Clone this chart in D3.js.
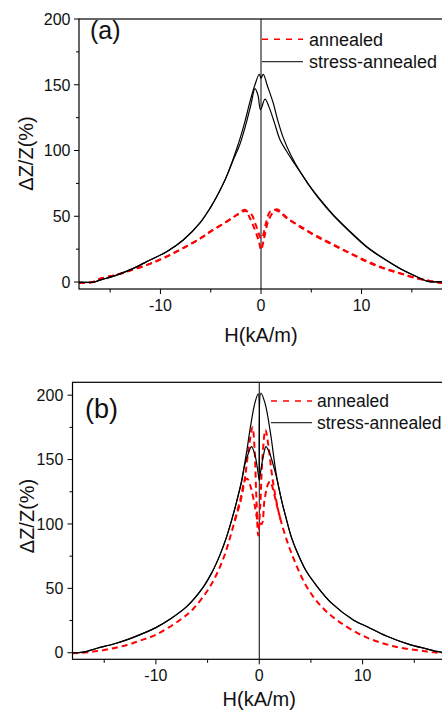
<!DOCTYPE html>
<html><head><meta charset="utf-8">
<script src="https://cdn.jsdelivr.net/npm/d3@7/dist/d3.min.js"></script>
<style>body{margin:0;background:#fff}svg{display:block;font-family:"Liberation Sans",Arial,Helvetica,sans-serif}</style>
</head><body>
<svg id="chart" width="442" height="711"></svg>
<script>
// ---------- DATA ----------
// Panel (a)
const aStress1H = [-18.1,-16.6,-16.0,-14.36,-12.7,-11.04,-9.38,-7.73,-6.07,-5.0,-4.4,-3.5,-2.75,-2.09,-1.6,-1.1,-0.6,-0.17,0,0.23,0.6,1.22,1.7,2.2,3.0,3.88,4.7,5.54,7.2,8.86,10.5,12.17,13.8,15.5,16.6,18.1];
const aStress1V = [0,0,1.5,5.3,10.4,16.7,23.1,32,45,57,65,79,94,109,122,137,150,158,155,158,150,136,122,110,96,84,74.5,66,51,38.5,27,18,10.4,4,0.5,0.3];
const aStress2H = [-18.1,-16.6,-16.0,-14.36,-12.7,-11.04,-9.38,-7.73,-6.07,-5.0,-4.4,-3.5,-2.75,-2.09,-1.5,-1.0,-0.6,-0.3,-0.05,0.4,0.8,1.3,1.9,2.5,3.2,3.88,4.7,5.54,7.2,8.86,10.5,12.17,13.8,15.5,16.6,18.1];
const aStress2V = [0,0,1.5,5.3,10.4,16.7,23.1,32,45,57,65,79,93,105,120,135,147,142,131,139,133,122,108,100,91.5,84,74.5,65.5,50.5,38,26.7,17.8,10.3,4,0.5,0.3];
const aAnneal1H = [-18.1,-16.7,-16.0,-14.4,-12.7,-11.0,-9.4,-7.7,-6.07,-5.0,-3.4,-2.4,-1.6,-1.1,-0.6,-0.2,0,0.3,0.7,1.1,1.56,2.56,3.88,5.54,7.2,8.86,10.5,12.17,13.8,15.5,17.2,18.1];
const aAnneal1V = [-0.8,0,2.5,5.5,9.5,14,19.3,26,33,38.5,46,51,55,48.5,39.6,30.7,24.4,33,46,52,55.3,49,42,34.5,28,21.8,15.5,10.4,6.6,2.8,0.3,-0.8];
const aAnneal2H = [-18.1,-16.7,-16.0,-14.4,-12.7,-11.0,-9.4,-7.7,-6.07,-5.0,-3.4,-2.4,-1.6,-1.0,-0.5,0.05,0.5,0.85,1.3,1.8,2.56,3.88,5.54,7.2,8.86,10.5,12.17,13.8,15.5,17.2,18.1];
const aAnneal2V = [-0.8,0,2.5,5.5,9.5,14,19.3,26,33,38.5,46,51,54,52,43,33,45,53,55,53.5,48.5,42.5,35,28.5,22,16,10.8,6.8,3,0.3,-0.8];
// Panel (b)
const bStress1H = [-18.1,-17,-15.7,-14,-12.5,-10,-8.65,-7,-5.42,-4.6,-3.8,-3.2,-2.67,-2.2,-1.7,-1.2,-0.9,-0.42,-0.1,0,0.16,0.55,1.04,1.68,2.2,2.65,3.1,3.62,4.5,5.55,7,9.1,10.5,12.3,14.5,16.2,17.3,18.1];
const bStress1V = [0,0.5,3.5,7,11,19.5,26,36,51,62,76,89,103,117,134,157,173,194,201,140,201.6,194,173,137,117,103,90,79,64,52,38.5,25.5,20,13,6.5,3,0.8,0];
const bStress2H = [-18.1,-17,-15.7,-14,-12.5,-10,-8.65,-7,-5.42,-4.6,-3.8,-3.2,-2.67,-2.2,-1.7,-1.4,-1.0,-0.75,-0.4,-0.12,0,0.12,0.4,0.65,0.95,1.35,1.68,2.2,2.65,3.1,3.62,4.5,5.55,7,9.1,10.5,12.3,14.5,16.2,17.3,18.1];
const bStress2V = [0,0.5,3.5,7,11,19.5,26,36,51,62,76,89,103,117,133,146,156,160,153,140,134,140,153,160,156,146,136,117,103,90,79,64,52,38.5,25.5,20,13,6.5,3,0.8,0];
const bAnneal1H = [-18.1,-16.5,-15.1,-12.8,-11.5,-10,-7.68,-6.4,-4.77,-3.48,-2.35,-1.8,-1.38,-1.0,-0.65,-0.45,-0.3,-0.1,0.1,0.3,0.6,0.9,1.2,1.6,2.07,3.13,4.59,6,7.5,10.07,13,16.2,17.2,18.1];
const bAnneal1V = [-0.5,0.5,2,6,9.5,14,25.4,34,51.3,73,103,118,136,160,175,158,125,91,115,150,173,160,140,120,103,77,51.3,36,25.4,13,5,1,0,-0.5];
// second annealed sweep differs only around the peak
const bAnneal2H = [-2.35,-1.8,-1.38,-1.15,-0.8,-0.45,-0.1,0.23,0.5,0.85,1.05,1.3,1.6,2.07];
const bAnneal2V = [103,120,134,135,128,115,102,100,118,131,133,128,118,103];

const xTicksMajor = [-10,0,10];
const xTicksMinor = [-15,-5,5,15];
const yTicksMajor = [0,50,100,150,200];
const yTicksMinor = [25,75,125,175];
const legendLabels = ["annealed","stress-annealed"];
const panelLabels = ["(a)","(b)"];
const xTitle = "H(kA/m)";
const yTitle = "\u0394Z/Z(%)";

// ---------- DRAW ----------
const svg = d3.select("#chart");
const zip = (H,V) => H.map((h,i)=>[h,V[i]]);

const panels = [
  {id:"a", left:79, right:443, top:19, bottom:289, xd:[-18.1,18.1], yd:[-5.3,200],
   stress:[zip(aStress1H,aStress1V), zip(aStress2H,aStress2V)],
   anneal:[zip(aAnneal1H,aAnneal1V), zip(aAnneal2H,aAnneal2V)],
   label:panelLabels[0], labelX:90, labelY:39, labelSize:25,
   legX1:262, legX2:303, legY:[39.3,61.7], legTextX:309, legSize:18,
   yLabelGap:8.5, xLabelBase:21.5, xTitleY:342, yTitleX:33, yTitleY:153.5},
  {id:"b", left:72.5, right:446, top:382.3, bottom:659.3, xd:[-18.07,18.07], yd:[-5.1,210],
   stress:[zip(bStress1H,bStress1V), zip(bStress2H,bStress2V)],
   anneal:[zip(bAnneal1H,bAnneal1V), zip(bAnneal2H,bAnneal2V)],
   label:panelLabels[1], labelX:85, labelY:418, labelSize:27,
   legX1:271, legX2:312, legY:[401,422.7], legTextX:317, legSize:17.5,
   yLabelGap:9.2, xLabelBase:21.5, xTitleY:706, yTitleX:34, yTitleY:516}
];

panels.forEach(p=>{
  const x = d3.scaleLinear().domain(p.xd).range([p.left,p.right]);
  const y = d3.scaleLinear().domain(p.yd).range([p.bottom,p.top]);
  const g = svg.append("g");
  g.append("clipPath").attr("id","clip"+p.id).append("rect")
    .attr("x",p.left).attr("y",p.top).attr("width",p.right-p.left).attr("height",p.bottom-p.top);

  const line = d3.line().x(d=>x(d[0])).y(d=>y(d[1])).curve(d3.curveCatmullRom.alpha(0.5));
  const plot = g.append("g").attr("clip-path",`url(#clip${p.id})`);

  plot.append("line").attr("x1",x(0)).attr("x2",x(0)).attr("y1",p.top).attr("y2",p.bottom)
    .attr("stroke","#000").attr("stroke-width",1);

  p.anneal.forEach(d=>plot.append("path").attr("d",line(d)).attr("fill","none")
    .attr("stroke","#ff0000").attr("stroke-width",2).attr("stroke-dasharray","6,4"));
  p.stress.forEach(d=>plot.append("path").attr("d",line(d)).attr("fill","none")
    .attr("stroke","#000").attr("stroke-width",1.2));

  g.append("rect").attr("x",p.left).attr("y",p.top).attr("width",p.right-p.left).attr("height",p.bottom-p.top)
    .attr("fill","none").attr("stroke","#000").attr("stroke-width",1.2);

  yTicksMajor.forEach(t=>{
    g.append("line").attr("x1",p.left-5).attr("x2",p.left).attr("y1",y(t)).attr("y2",y(t)).attr("stroke","#000");
    g.append("text").attr("x",p.left-p.yLabelGap).attr("y",y(t)).attr("dy","0.36em")
      .attr("text-anchor","end").attr("font-size",16).attr("fill","#111").text(t);
  });
  yTicksMinor.forEach(t=>{
    g.append("line").attr("x1",p.left-3).attr("x2",p.left).attr("y1",y(t)).attr("y2",y(t)).attr("stroke","#000");
  });
  xTicksMajor.forEach(t=>{
    g.append("line").attr("x1",x(t)).attr("x2",x(t)).attr("y1",p.bottom).attr("y2",p.bottom+5).attr("stroke","#000");
    g.append("text").attr("x",x(t)).attr("y",p.bottom+p.xLabelBase)
      .attr("text-anchor","middle").attr("font-size",16).attr("fill","#111").text(t);
  });
  xTicksMinor.forEach(t=>{
    g.append("line").attr("x1",x(t)).attr("x2",x(t)).attr("y1",p.bottom).attr("y2",p.bottom+3.5).attr("stroke","#000");
  });

  g.append("text").attr("x",x(0)).attr("y",p.xTitleY).attr("text-anchor","middle")
    .attr("font-size",20).attr("fill","#111").text(xTitle);
  g.append("text").attr("transform",`translate(${p.yTitleX},${p.yTitleY}) rotate(-90)`)
    .attr("text-anchor","middle").attr("font-size",20).attr("fill","#111").text(yTitle);

  g.append("text").attr("x",p.labelX).attr("y",p.labelY).attr("font-size",p.labelSize)
    .attr("fill","#111").text(p.label);

  g.append("line").attr("x1",p.legX1).attr("x2",p.legX2).attr("y1",p.legY[0]).attr("y2",p.legY[0])
    .attr("stroke","#ff0000").attr("stroke-width",1.5).attr("stroke-dasharray","6,6");
  g.append("line").attr("x1",p.legX1).attr("x2",p.legX2).attr("y1",p.legY[1]).attr("y2",p.legY[1])
    .attr("stroke","#333").attr("stroke-width",1.2);
  legendLabels.forEach((l,i)=>{
    g.append("text").attr("x",p.legTextX).attr("y",p.legY[i]).attr("dy","0.36em")
      .attr("font-size",p.legSize).attr("fill","#111").text(l);
  });
});
</script>
</body></html>
